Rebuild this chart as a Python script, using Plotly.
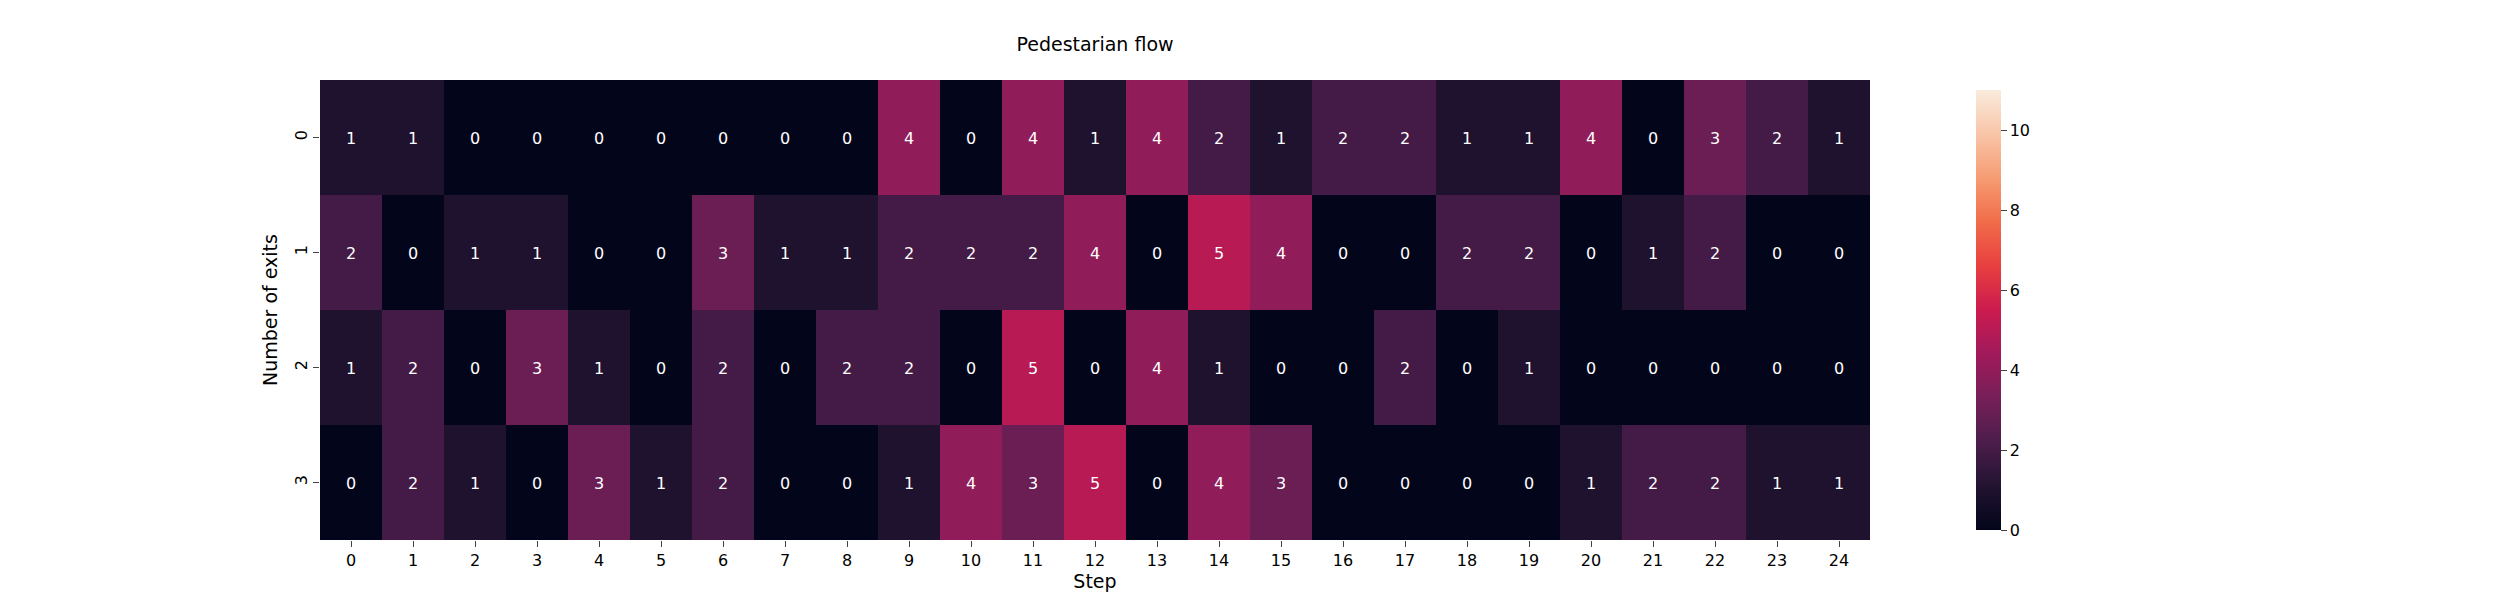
import plotly.graph_objects as go

steps = list(range(25))
exits = [0, 1, 2, 3]
flow = [
    [1, 1, 0, 0, 0, 0, 0, 0, 0, 4, 0, 4, 1, 4, 2, 1, 2, 2, 1, 1, 4, 0, 3, 2, 1],
    [2, 0, 1, 1, 0, 0, 3, 1, 1, 2, 2, 2, 4, 0, 5, 4, 0, 0, 2, 2, 0, 1, 2, 0, 0],
    [1, 2, 0, 3, 1, 0, 2, 0, 2, 2, 0, 5, 0, 4, 1, 0, 0, 2, 0, 1, 0, 0, 0, 0, 0],
    [0, 2, 1, 0, 3, 1, 2, 0, 0, 1, 4, 3, 5, 0, 4, 3, 0, 0, 0, 0, 1, 2, 2, 1, 1],
]

# approximation of seaborn "rocket"
rocket = [[0.0, '#03051a'], [0.1, '#221331'], [0.2, '#4c1d4b'], [0.3, '#761f58'],
          [0.4, '#a11a5b'], [0.5, '#cb1b4f'], [0.6, '#e83f3f'], [0.7, '#f16c49'],
          [0.8, '#f69c73'], [0.9, '#f8c5a8'], [1.0, '#faebdd']]

fig = go.Figure(go.Heatmap(
    z=flow, x=steps, y=exits,
    zmin=0, zmax=11, colorscale=rocket,
    text=flow, texttemplate='%{text}',
    textfont=dict(color='white', size=16),
    colorbar=dict(x=1.062, xanchor='left', thickness=25, len=1, y=0.5,
                  tickvals=[0, 2, 4, 6, 8, 10], ticks='outside', ticklen=6,
                  outlinewidth=0, tickfont=dict(size=16)),
))

fig.update_layout(
    width=2500, height=600,
    paper_bgcolor='white', plot_bgcolor='white',
    font=dict(family='DejaVu Sans', size=16, color='black'),
    title=dict(text='Pedestarian flow', x=(312 + 1862) / 2 / 2500, xanchor='center',
               y=0.94, yanchor='middle', font=dict(size=19)),
    margin=dict(l=312, r=638, t=72, b=68),
    xaxis=dict(title=dict(text='Step', standoff=4), tickmode='array', tickvals=steps,
               ticks='outside', ticklen=6, showgrid=False, zeroline=False),
    yaxis=dict(title=dict(text='Number of exits', standoff=8), tickmode='array', tickvals=exits,
               autorange='reversed', ticks='outside', ticklen=6, tickangle=-90,
               showgrid=False, zeroline=False),
)

fig.write_html("out.html")
